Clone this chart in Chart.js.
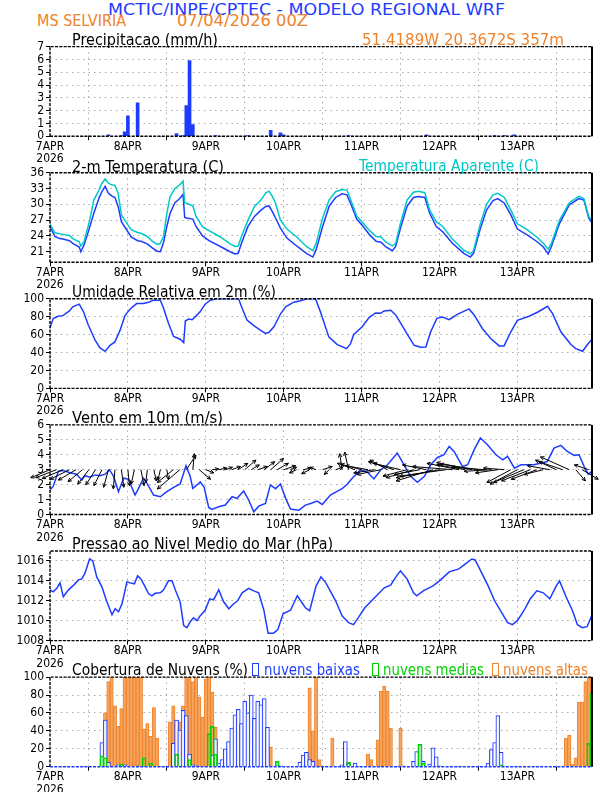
<!DOCTYPE html>
<html>
<head>
<meta charset="utf-8">
<title>Meteograma WRF - MS SELVIRIA</title>
<script src="https://cdn.jsdelivr.net/npm/chart.js@4.4.1/dist/chart.umd.min.js"></script>
<style>
  html, body { margin: 0; padding: 0; background: #fff; }
  body { position: relative; width: 612px; height: 792px; overflow: hidden; }
  canvas { position: absolute; left: 0; }
  .t { position: absolute; white-space: nowrap; font-family: "DejaVu Sans", sans-serif; line-height: 1; transform-origin: 0 50%; z-index: 2; }
  .box { position: absolute; width: 5px; height: 11px; border: 1.5px solid; z-index: 2; }
</style>
</head>
<body>
<div class="t" data-x="108" data-y="9.5" data-w="397" style="font-size:16px;color:rgb(30,60,255)">MCTIC/INPE/CPTEC - MODELO REGIONAL WRF</div>
<div class="t" data-x="37" data-y="21" data-w="89" style="font-size:15px;color:rgb(240,130,40)">MS SELVIRIA</div>
<div class="t" data-x="177" data-y="21" data-w="131" style="font-size:15px;color:rgb(240,130,40)">07/04/2026 00Z</div>
<div class="t" data-x="72" data-y="40" data-w="146" style="font-size:15px;color:#000">Precipitacao (mm/h)</div>
<div class="t" data-x="362" data-y="40" data-w="202" style="font-size:15px;color:rgb(240,130,40)">51.4189W 20.3672S 357m</div>
<div class="t" data-x="72" data-y="167" data-w="152" style="font-size:15px;color:#000">2-m Temperatura (C)</div>
<div class="t" data-x="359" data-y="166" data-w="180" style="font-size:15px;color:rgb(0,200,200)">Temperatura Aparente (C)</div>
<div class="t" data-x="72" data-y="292" data-w="204" style="font-size:15px;color:#000">Umidade Relativa em 2m (%)</div>
<div class="t" data-x="72" data-y="418" data-w="151" style="font-size:15px;color:#000">Vento em 10m (m/s)</div>
<div class="t" data-x="72" data-y="544" data-w="261" style="font-size:15px;color:#000">Pressao ao Nivel Medio do Mar (hPa)</div>
<div class="t" data-x="72" data-y="670" data-w="176" style="font-size:15px;color:#000">Cobertura de Nuvens (%)</div>
<div class="box" style="left:252px;top:663px;border-color:rgb(30,60,255)"></div>
<div class="t" data-x="264" data-y="670" data-w="96" style="font-size:15px;color:rgb(30,60,255)">nuvens baixas</div>
<div class="box" style="left:372px;top:663px;border-color:rgb(0,210,0)"></div>
<div class="t" data-x="383" data-y="670" data-w="101" style="font-size:15px;color:rgb(0,210,0)">nuvens medias</div>
<div class="box" style="left:492px;top:663px;border-color:rgb(240,130,40)"></div>
<div class="t" data-x="503" data-y="670" data-w="85" style="font-size:15px;color:rgb(240,130,40)">nuvens altas</div>

<canvas id="cPrec"></canvas>
<canvas id="cTemp"></canvas>
<canvas id="cRh"></canvas>
<canvas id="cWind"></canvas>
<canvas id="cPres"></canvas>
<canvas id="cCloud"></canvas>

<script>
// ========================
// DATA (hours after 07APR2026 00Z)
// ========================
const X_MAX = 167;
const dayTicks = [0, 24, 48, 72, 96, 120, 144];
const dayLabels = [["7APR", "2026"], "8APR", "9APR", "10APR", "11APR", "12APR", "13APR"];

const precTicks = [0, 1, 2, 3, 4, 5, 6, 7];
const tempTicks = [21, 24, 27, 30, 33, 36];
const rhTicks = [0, 20, 40, 60, 80, 100];
const windTicks = [0, 1, 2, 3, 4, 5, 6];
const presTicks = [1008, 1010, 1012, 1014, 1016];
const cloudTicks = [0, 20, 40, 60, 80, 100];

// precipitation mm/h [hour, value]
const precip = [[18,0.1],[22,0.05],[23,0.35],[24,1.6],[27,2.6],[39,0.2],[41,0.05],[42,2.4],[43,5.9],[44,0.9],
  [51,0.05],[61,0.05],[68,0.45],[71,0.27],[72,0.1],[92,0.05],[116,0.1],[137,0.05],[140,0.05],[143,0.1]];

// 2 m temperature (C)
const tempAir = [[0,25.8],[1.5,23.9],[3,23.5],[4,23.4],[6,23.1],[7,22.6],[9,21.9],[9.5,21.0],[10.5,22.3],[12,25.2],
  [13.5,28.3],[15,31.0],[16,32.4],[17,33.4],[18,32.1],[19,31.6],[20,31.3],[21,29.6],[22,26.7],[24,24.8],
  [25,23.8],[27,23.1],[28,23.0],[30,22.5],[31.5,21.75],[33,21.1],[34,21.0],[35,22.8],[36,25.8],[37,28.3],
  [38.5,30.3],[40,31.1],[41,31.9],[41.5,27.5],[42,27.4],[44,27.2],[45,25.8],[47,24.0],[49,23.1],[52.5,22.0],
  [55.5,21.0],[57,20.6],[58,20.7],[59,22.6],[61,25.8],[63,27.7],[65,28.9],[66.5,29.6],[67.5,29.7],[68.5,28.6],
  [69.5,27.4],[71,25.5],[73,23.6],[76,22.1],[79,20.7],[81,20.0],[82,21.4],[84,25.8],[86,29.6],[88,31.3],
  [90,32.0],[91.5,31.8],[93,29.6],[94.5,27.2],[96.5,25.8],[98.5,24.2],[100.5,23.0],[102,22.8],[103.5,21.9],[105.5,21.2],
  [106.5,22.0],[108,25.5],[110,29.6],[112,31.3],[113.5,31.5],[115.5,31.3],[117,28.3],[119,25.8],[121,24.8],[124,22.6],
  [127.5,20.7],[129.5,20.0],[130.5,20.7],[132.5,25.2],[134.5,28.9],[136.5,30.7],[138,31.1],[140,30.2],[142,28.0],[144,25.3],
  [147,24.2],[150,22.95],[152,21.9],[153.5,20.6],[154.5,22.0],[157,26.4],[160,29.9],[163,31.1],[164.5,30.8],[166,27.4],[167,26.5]];

// apparent temperature (C)
const tempApparent = [[0,26.2],[1.5,24.6],[3,24.4],[4,24.3],[6,24.1],[7,23.5],[9,22.9],[9.5,22.1],[10.5,22.9],[12,26.4],
  [13.5,30.8],[15,32.6],[16,34.0],[17,34.8],[18,34.0],[19,33.7],[20,33.6],[21,32.1],[22,28.0],[24,26.1],
  [25,25.2],[27,24.65],[28,24.5],[30,23.9],[31.5,23.0],[33,22.4],[34,22.6],[35,24.0],[36,28.3],[37,31.5],
  [38.5,33.0],[40,33.7],[41,34.4],[41.5,30.3],[42,30.2],[44,29.7],[45,27.7],[47,25.7],[49,25.0],[52.5,23.8],
  [55.5,22.5],[57,22.0],[58,22.1],[59,23.9],[61,27.0],[63,29.6],[65,30.8],[66.5,32.2],[67.5,32.5],[68.5,31.5],
  [69.5,30.2],[71,27.0],[73,25.3],[76,23.8],[79,22.0],[81,21.2],[82,22.6],[84,27.4],[86,30.8],[88,32.4],
  [90,32.8],[91.5,32.7],[93,30.3],[94.5,27.8],[96.5,26.4],[98.5,25.0],[100.5,23.9],[102,23.8],[103.5,22.8],[105.5,22.1],
  [106.5,22.6],[108,26.4],[110,30.8],[112,32.3],[113.5,32.5],[115.5,32.2],[117,28.9],[119,26.7],[121,25.8],[124,23.4],
  [127.5,21.3],[129.5,20.6],[130.5,21.2],[132.5,26.1],[134.5,30.0],[136.5,31.8],[138,32.1],[140,31.3],[142,28.9],[144,26.3],
  [147,25.2],[150,23.8],[152,22.6],[153.5,21.5],[154.5,22.6],[157,27.0],[160,30.3],[163,31.5],[164.5,31.1],[166,27.7],[167,26.9]];

// relative humidity 2 m (%)
const humidity = [[0,67.7],[1,78],[2.5,80.5],[4,81.2],[5,84],[6,86.5],[7,91],[9,94],[10.3,85.7],[11.8,70.7],
  [13.9,53.8],[15.4,45.1],[17,41.4],[18.5,48.1],[20,51.9],[21.6,65],[23.1,81.2],[24.7,88.7],[26.7,94.7],[28.8,94.7],
  [30.4,96.2],[31.9,98.5],[34,98.5],[35,89.5],[36.5,72.6],[38.1,57.9],[40.1,54.9],[41.2,51.1],[41.7,75.2],[42.7,77.4],
  [43.8,76.7],[44.8,80.1],[46.3,85.7],[47.8,94],[49.4,98.5],[51.4,100],[58.1,100],[59.2,89.5],[60.7,76.3],[62.8,70],
  [64.8,65],[66.4,61.3],[67.4,62.4],[69,68.8],[71,83],[72.6,91],[75.1,96.2],[77.2,97.7],[79.2,100],[81.8,100],
  [83.3,85.7],[85.9,57.5],[88.5,48.9],[91.4,44.4],[92.6,50],[93.6,60.2],[96.2,68.8],[98.3,79],[100.3,84.2],[101.9,83.8],
  [102.9,86.5],[105,87.2],[106.5,82],[108.1,72.6],[110.1,60.2],[112.2,48.1],[114.2,45.9],[115.8,46.2],[117.3,63.2],[119.2,78.2],
  [120.9,79.7],[123,76.7],[125.5,82.7],[129.1,88.7],[130.7,82],[133.2,66.9],[135.8,55.6],[138.4,47.4],[139.9,47.4],[142,63.2],
  [144,75.9],[147.6,80.5],[150.2,85],[153.3,91.7],[154.8,83.8],[157.4,63.2],[160.5,48.9],[162,44.4],[164.1,41.4],[165.6,48.9],[167,54.9]];

// wind speed 10 m (m/s)
const windSpeed = [[0,1.64],[1,1.9],[2.6,2.9],[4.1,2.95],[6.2,2.8],[8.2,2.7],[9.8,2.3],[10.8,2.6],[12.3,2.5],[13.9,2.65],
  [15.4,2.6],[17,2.7],[18.3,3.0],[19.6,2.55],[21.1,1.53],[22.7,2.43],[24.2,2.36],[25.2,1.82],[26.2,1.3],[27.3,1.75],
  [28.8,2.43],[30.4,1.9],[31.9,1.3],[34,1.19],[36,1.53],[38.1,1.82],[40.1,2.04],[41.9,3.26],[43.2,2.54],[44,1.75],
  [45.3,1.98],[46.3,2.18],[47.5,1.82],[48.9,0.47],[49.9,0.34],[52,0.52],[54,0.63],[56.1,1.19],[57.6,1.08],[59.7,1.57],
  [61.2,0.97],[62.8,0.18],[64.3,0.56],[66.4,0.74],[67.9,1.98],[69.5,1.73],[71,2.04],[72.6,1.08],[74.1,0.37],[76.7,0.29],
  [78.7,0.63],[80.3,0.74],[82.3,0.9],[83.9,0.67],[86.4,1.3],[90.1,1.75],[91.6,2.02],[93.1,2.43],[95.7,2.99],[97.8,2.83],
  [99.8,2.38],[101.9,2.99],[104,3.33],[107,4.11],[109.1,3.33],[111.2,2.54],[113.2,2.16],[115.3,2.54],[117.3,3.33],[119.4,3.82],
  [121.4,4.0],[123,4.56],[124.5,4.22],[127.1,3.21],[128.7,3.33],[130.7,4.34],[132.6,5.12],[134.8,4.67],[137.4,4.0],[139.5,3.66],
  [141,3.89],[143.1,3.1],[145.1,3.33],[149.1,3.33],[153.2,3.55],[155.3,4.45],[157.4,4.63],[159.4,4.22],[161.5,3.96],[163,4.0],
  [164.6,3.21],[165.8,2.7],[167,2.88]];

// wind vectors [hour, u, v], drawn from the 3 m/s line
const windVectors = [[0,-2.4,-1.0],[2,-2.6,-1.0],[4,-2.6,-1.1],[6,-2.4,-1.2],[8,-2.2,-1.3],[10,-1.8,-1.5],[12,-1.4,-1.8],
  [14,-1.2,-1.9],[16,-1.0,-2.0],[18,-0.6,-2.2],[20,-0.2,-2.4],[22,0.3,-2.2],[24,0.2,-2.0],[26,-0.4,-1.8],[28,0.4,-2.0],
  [30,-0.2,-1.6],[32,0.3,-1.4],[34,-0.3,-1.3],[36,0.2,-1.2],[38,-2.0,-1.6],[40,-2.8,-2.4],[42,1.2,1.8],[44,0.2,2.0],
  [46,1.4,-1.2],[48,1.0,-0.4],[50,0.8,0.1],[52,1.0,0.2],[54,0.9,0.3],[56,1.1,0.4],[58,1.2,0.8],[60,1.4,1.2],[62,1.0,0.6],
  [64,1.2,0.4],[66,1.3,1.0],[68,1.6,1.4],[70,1.4,0.8],[72,1.5,0.5],[74,0.8,0.3],[76,-0.9,-0.4],[78,1.0,0.2],[80,-1.0,-0.5],
  [82,-0.8,0.3],[84,1.2,0.4],[86,-0.6,-0.6],[88,0.9,0.3],[90,-0.3,2.0],[92,-0.5,2.2],[94,-2.2,0.8],[96,-2.6,0.7],
  [98,-2.8,0.5],[100,-2.6,-0.4],[102,-3.0,-0.6],[104,-2.2,1.2],[106,-3.2,1.0],[108,-3.4,0.8],[110,-3.0,-0.8],[112,-3.4,-1.0],
  [114,-3.2,-0.6],[116,-3.0,0.6],[118,-4.6,-1.4],[120,-5.4,-1.0],[122,-5.8,-0.8],[124,-5.0,0.4],[126,-4.0,0.8],[128,-3.6,0.6],
  [130,-4.4,0.9],[132,-4.8,0.7],[134,-4.2,0.3],[136,-3.4,-0.2],[138,-2.8,-0.4],[140,-2.6,0.2],[142,-3.0,-1.6],[144,-3.4,-1.8],
  [146,-3.8,-1.6],[148,-3.6,-1.4],[150,-3.2,-1.2],[152,-2.4,-0.6],[154,-2.8,0.5],[156,-2.6,1.2],[158,-3.0,1.0],[160,-3.6,1.6],
  [162,1.2,-1.4],[164,2.0,-1.2],[166,-1.8,0.6]];

// mean sea level pressure (hPa)
const pressure = [[0,1013.1],[1,1012.9],[2.1,1013.25],[3.1,1013.8],[4.1,1012.4],[5.7,1013.1],[7.2,1013.55],[8.8,1014.1],[9.8,1014.2],[10.8,1014.8],
  [12.2,1016.2],[13.2,1016.0],[14.4,1014.4],[16,1013.4],[17.3,1012.1],[19.1,1010.6],[20.1,1011.2],[21.1,1010.9],[22.2,1011.7],[23.7,1013.9],
  [24.7,1013.8],[26,1013.7],[27,1014.5],[28,1014.2],[29,1013.6],[30.4,1012.7],[31.4,1012.5],[32.4,1012.75],[34,1012.8],[35,1013.1],
  [36.5,1014.0],[37.6,1014.0],[38.6,1013.1],[40.1,1011.9],[41.2,1009.5],[42.2,1009.3],[43.2,1009.9],[44.2,1010.3],[45.3,1010.0],[46.3,1010.5],
  [47.8,1011.05],[49.2,1012.2],[50.4,1012.1],[52,1013.1],[53.5,1011.9],[55.1,1011.2],[56.6,1011.7],[57.8,1012.0],[59.2,1012.8],[61.2,1013.25],
  [62.8,1013.0],[64.3,1012.8],[65.9,1011.05],[67.2,1008.75],[68.9,1008.75],[70.2,1009.1],[71.8,1010.7],[74.1,1011.05],[76.2,1012.5],[78.7,1011.3],
  [80,1011.0],[82,1013.5],[83.5,1014.4],[85,1013.8],[88,1012.0],[90,1010.5],[92,1009.8],[93.5,1009.6],[95,1010.3],[97,1011.3],
  [100,1012.3],[103,1013.3],[105,1013.6],[107,1014.6],[108,1015.0],[110,1014.2],[112,1012.8],[113,1012.5],[115,1013.0],[118,1013.5],
  [120,1014.0],[123,1014.9],[126,1015.2],[128,1015.7],[130,1016.2],[131,1016.1],[133,1014.8],[135,1013.5],[137,1012.0],[139,1010.9],
  [141,1009.8],[142.5,1009.6],[144,1010.0],[146,1011.0],[148,1012.2],[150,1013.0],[152,1012.8],[154,1012.2],[156,1013.5],[157,1014.0],
  [159,1012.4],[161,1011.0],[162.5,1009.6],[164,1009.3],[165.5,1009.4],[167,1010.6]];

// cloud cover (%) [hour, value]
const cloudLow = [[16,27],[17,52],[18,5],[21,2],[23,2],[38,26],[39,52],[40,41],[41,63],[42,57],[43,14],[44,2],[45,1],
  [50,13],[51,31],[52,4],[53,8],[54,20],[55,28],[56,43],[57,58],[58,64],[59,48],[60,73],[61,60],[62,80],[63,54],[64,73],
  [65,69],[66,76],[67,44],[68,1],[70,2],[71,1],[77,5],[78,13],[79,16],[80,8],[81,6],[90,2],[91,28],[92,4],[94,4],
  [112,6],[113,17],[114,25],[115,6],[117,3],[118,21],[119,11],[120,1],[135,4],[136,19],[137,27],[138,57],[139,16]];
const cloudMid = [[16,12],[17,10],[22,3],[27,1],[29,10],[31,4],[39,14],[43,8],[49,37],[50,45],[51,14],[70,6],[92,5],
  [114,25],[115,4],[139,2],[166,26],[167,82]];
const cloudHigh = [[17,60],[18,95],[19,100],[20,68],[21,45],[22,65],[23,100],[24,100],[25,100],[26,100],[27,100],[28,100],
  [29,42],[30,48],[31,34],[32,66],[33,32],[37,50],[38,68],[39,38],[40,50],[41,68],[42,100],[43,100],[44,95],[45,100],
  [46,78],[47,55],[48,98],[49,100],[50,83],[51,44],[68,22],[80,88],[81,40],[82,100],[83,8],[87,32],[98,14],[99,8],
  [101,30],[102,84],[103,90],[104,84],[105,43],[108,43],[109,1],[159,32],[160,35],[161,3],[162,10],[163,72],[164,72],
  [165,95],[166,100],[167,100]];

// ========================
// STYLE
// ========================
const BLUE = "rgb(30,60,255)";
const CYAN = "rgb(0,200,200)";
const GREEN = "rgb(0,210,0)";
const ORANGE = "rgb(240,130,40)";
const ORANGE_FILL = "rgb(245,165,95)";
const TICK_FONT = { family: "'Liberation Sans Narrow','DejaVu Sans Condensed','Arial Narrow','Liberation Sans',sans-serif", size: 12, lineHeight: 1.05 };
const PANEL_TOPS = [46.6, 172.7, 298.8, 424.9, 551.0, 677.1];
const PANEL_H = 89.6;
const ARROW_PX = 8;

// titles: fit each one to its width in the picture
document.querySelectorAll(".t").forEach(el => {
  const fs = parseFloat(el.style.fontSize);
  el.style.left = el.dataset.x + "px";
  el.style.top = (el.dataset.y - 0.48 * fs) + "px";
  const w = el.getBoundingClientRect().width;
  el.style.transform = "scaleX(" + (el.dataset.w / w) + ")";
});

// ========================
// PLUGINS
// ========================
const framePlugin = {
  id: "frame",
  afterDraw(chart, args, opts) {
    const { ctx, chartArea: a } = chart;
    ctx.save();
    ctx.lineWidth = 1.4;
    ctx.setLineDash([3, 1.3]);
    ctx.strokeStyle = "#000";
    ctx.beginPath();
    ctx.moveTo(a.left, a.bottom); ctx.lineTo(a.left, a.top); ctx.lineTo(a.right, a.top);
    ctx.stroke();
    ctx.strokeStyle = opts.bottom || "#000";
    ctx.beginPath();
    ctx.moveTo(a.left, a.bottom); ctx.lineTo(a.right, a.bottom);
    ctx.stroke();
    ctx.setLineDash([]);
    ctx.lineWidth = 2;
    ctx.strokeStyle = "#000";
    ctx.beginPath();
    ctx.moveTo(a.right, a.top); ctx.lineTo(a.right, a.bottom);
    ctx.stroke();
    ctx.restore();
  }
};

const windArrows = {
  id: "windArrows",
  afterDatasetsDraw(chart) {
    const { ctx, scales: { x, y } } = chart;
    ctx.save();
    ctx.strokeStyle = "#000";
    ctx.lineWidth = 1;
    windVectors.forEach(([h, u, v]) => {
      const x0 = x.getPixelForValue(h), y0 = y.getPixelForValue(3);
      const x1 = x0 + u * ARROW_PX, y1 = y0 - v * ARROW_PX;
      const ang = Math.atan2(y1 - y0, x1 - x0);
      ctx.beginPath();
      ctx.moveTo(x0, y0); ctx.lineTo(x1, y1);
      ctx.moveTo(x1 - 4 * Math.cos(ang - 0.45), y1 - 4 * Math.sin(ang - 0.45));
      ctx.lineTo(x1, y1);
      ctx.lineTo(x1 - 4 * Math.cos(ang + 0.45), y1 - 4 * Math.sin(ang + 0.45));
      ctx.stroke();
    });
    ctx.restore();
  }
};

// ========================
// PANEL BUILDER
// ========================
function panel(id, idx, type, yMin, yMax, yTicks, datasets, extra, frameOpts) {
  const top = PANEL_TOPS[idx];
  const canvasTop = Math.floor(top) - 9;
  const padTop = top - canvasTop;
  const h = 134;
  const xH = h - padTop - PANEL_H;
  const cv = document.getElementById(id);
  cv.width = 612;
  cv.height = h;
  cv.style.top = canvasTop + "px";

  const grid = { color: "#aaaaaa", lineWidth: 1, tickLength: 4, tickColor: "#000", tickWidth: 1 };
  const border = { display: false, dash: [1.5, 4] };

  return new Chart(cv, {
    type: type,
    data: { datasets: datasets },
    options: {
      responsive: false,
      animation: false,
      layout: { padding: { left: 0, right: 20, top: padTop, bottom: 0 } },
      plugins: { legend: { display: false }, tooltip: { enabled: false }, frame: frameOpts || {} },
      scales: {
        x: {
          type: "linear", min: 0, max: X_MAX, offset: false,
          afterBuildTicks: s => { s.ticks = dayTicks.map(v => ({ value: v })); },
          afterFit: s => { s.height = xH; },
          ticks: { autoSkip: false, maxRotation: 0, padding: 0, color: "#000", font: TICK_FONT,
                   callback: v => dayLabels[dayTicks.indexOf(v)] },
          grid: grid, border: border
        },
        y: {
          type: "linear", min: yMin, max: yMax,
          afterBuildTicks: s => { s.ticks = yTicks.map(v => ({ value: v })); },
          afterFit: s => { s.width = 50; },
          ticks: { autoSkip: false, padding: 2, color: "#000", font: TICK_FONT, callback: v => String(v) },
          grid: grid, border: border
        }
      }
    },
    plugins: [framePlugin].concat(extra || [])
  });
}

const line = (data, color) => ({ type: "line", data: data, borderColor: color, borderWidth: 1.5,
  pointRadius: 0, tension: 0, fill: false });
// bar controller reads [a, b] as a floating bar, so hand it {x, y}
const pts = pairs => pairs.map(([x, y]) => ({ x: x, y: y }));

// ========================
// CHARTS
// ========================
panel("cPrec", 0, "bar", 0, 7, precTicks, [
  { data: pts(precip), backgroundColor: BLUE, borderWidth: 0, barThickness: 3, grouped: false }
]);

panel("cTemp", 1, "line", 19, 36, tempTicks, [
  line(tempApparent, CYAN),
  line(tempAir, BLUE)
]);

panel("cRh", 2, "line", 0, 100, rhTicks, [line(humidity, BLUE)]);

panel("cWind", 3, "line", 0, 6, windTicks, [line(windSpeed, BLUE)], [windArrows]);

panel("cPres", 4, "line", 1008, 1017, presTicks, [line(pressure, BLUE)]);

panel("cCloud", 5, "bar", 0, 100, cloudTicks, [
  { data: pts(cloudMid), backgroundColor: "rgba(255,255,255,0)", borderColor: GREEN, borderWidth: 1,
    barThickness: 4, grouped: false, order: 0 },
  { data: pts(cloudLow), backgroundColor: "rgba(255,255,255,0.85)", borderColor: BLUE, borderWidth: 1,
    barThickness: 4, grouped: false, order: 1 },
  { data: pts(cloudHigh), backgroundColor: ORANGE_FILL, borderColor: ORANGE, borderWidth: 1,
    barThickness: 3.4, grouped: false, order: 2 }
], null, { bottom: BLUE });
</script>
</body>
</html>
